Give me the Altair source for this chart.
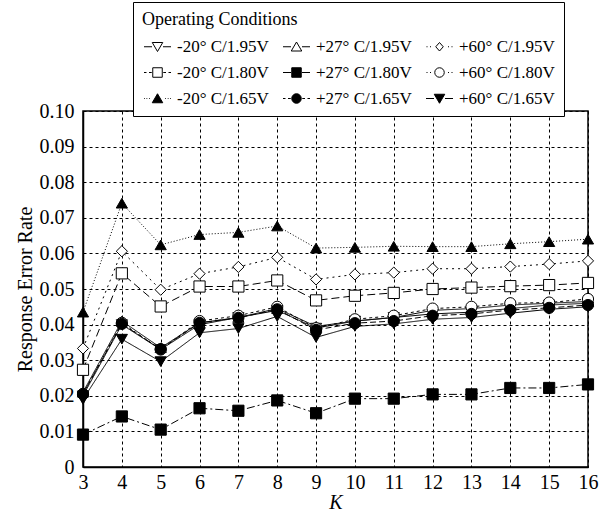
import altair as alt
import pandas as pd

K = list(range(3, 17))
conditions = [
    "-20° C/1.95V", "+27° C/1.95V", "+60° C/1.95V",
    "-20° C/1.80V", "+27° C/1.80V", "+60° C/1.80V",
    "-20° C/1.65V", "+27° C/1.65V", "+60° C/1.65V",
]

m20_195 = [0.0200, 0.0400, 0.0330, 0.0400, 0.0420, 0.0440, 0.0390, 0.0410, 0.0420, 0.0430, 0.0435, 0.0445, 0.0455, 0.0460]
p27_195 = [0.0210, 0.0410, 0.0335, 0.0405, 0.0420, 0.0445, 0.0395, 0.0410, 0.0420, 0.0440, 0.0445, 0.0455, 0.0460, 0.0465]
p60_195 = [0.0333, 0.0606, 0.0498, 0.0543, 0.0562, 0.0589, 0.0527, 0.0541, 0.0546, 0.0557, 0.0557, 0.0563, 0.0570, 0.0579]
m20_180 = [0.0273, 0.0544, 0.0451, 0.0507, 0.0507, 0.0524, 0.0468, 0.0481, 0.0489, 0.0500, 0.0504, 0.0508, 0.0511, 0.0517]
p27_180 = [0.0091, 0.0142, 0.0105, 0.0165, 0.0158, 0.0187, 0.0151, 0.0192, 0.0192, 0.0204, 0.0204, 0.0222, 0.0222, 0.0232]
p60_180 = [0.0205, 0.0405, 0.0330, 0.0410, 0.0425, 0.0450, 0.0390, 0.0415, 0.0425, 0.0445, 0.0450, 0.0460, 0.0462, 0.0472]
m20_165 = [0.0435, 0.0741, 0.0624, 0.0653, 0.0659, 0.0677, 0.0615, 0.0617, 0.0620, 0.0619, 0.0619, 0.0627, 0.0633, 0.0640]
p27_165 = [0.0205, 0.0402, 0.0331, 0.0405, 0.0419, 0.0443, 0.0385, 0.0404, 0.0410, 0.0425, 0.0430, 0.0441, 0.0447, 0.0455]
p60_165 = [0.0190, 0.0359, 0.0296, 0.0377, 0.0389, 0.0423, 0.0364, 0.0395, 0.0402, 0.0415, 0.0420, 0.0432, 0.0443, 0.0450]

series = [m20_195, p27_195, p60_195, m20_180, p27_180, p60_180, m20_165, p27_165, p60_165]

y_ticks = [0.0, 0.01, 0.02, 0.03, 0.04, 0.05, 0.06, 0.07, 0.08, 0.09, 0.10]

rows = []
for c, vals in zip(conditions, series):
    for k, v in zip(K, vals):
        rows.append({"K": k, "rate": v, "cond": c})
df = pd.DataFrame(rows)

# styles
point_shapes = ["triangle-down", "triangle-up", "diamond", "square", "square",
                "circle", "triangle-up", "circle", "triangle-down"]
point_sizes = [125, 125, 100, 185, 150, 135, 125, 140, 125]
point_fills = ["white", "white", "white", "white", "black",
               "white", "black", "black", "black"]
line_dashes = [[1, 0], [1, 0], [2, 4], [8, 4], [8, 3, 2, 3],
               [3, 3], [1, 2], [6, 3], [1, 0]]


# legend symbols: line pieces + marker (unit coordinates, shifted right)
def seg(pieces, dx=1.4):
    return "".join(f"M{a + dx:.2f},0L{b + dx:.2f},0" for a, b in pieces)


def poly(pts, dx=1.4):
    s = "M" + "L".join(f"{x + dx:.2f},{y:.2f}" for x, y in pts)
    return s + "Z"


solid = seg([(-2.7, -1.1), (1.1, 2.7)])
dotted = seg([(-2.6, -2.4), (-1.9, -1.7), (1.7, 1.9), (2.4, 2.6)])
dashed = seg([(-2.7, -2.2), (-1.7, -1.15), (1.15, 1.7), (2.2, 2.7)])
finedot = seg([(-2.7, -2.55), (-2.2, -2.05), (-1.7, -1.55),
               (1.55, 1.7), (2.05, 2.2), (2.55, 2.7)])
tri_down = poly([(-1.05, -0.85), (1.05, -0.85), (0, 0.95)])
tri_up = poly([(-1.05, 0.85), (1.05, 0.85), (0, -0.95)])
square = poly([(-0.95, -0.95), (0.95, -0.95), (0.95, 0.95), (-0.95, 0.95)])
diamond = poly([(0, -0.85), (0.75, 0), (0, 0.85), (-0.75, 0)])
circle = "M0.45,0A0.95,0.95,0,1,0,2.35,0A0.95,0.95,0,1,0,0.45,0Z"
legend_paths = [
    solid + tri_down, solid + tri_up, dotted + diamond,
    dashed + square, solid + square, dotted + circle,
    finedot + tri_up, dashed + circle, solid + tri_down,
]

# legend lays out column by column; reorder so that it reads row by row
col_order = [0, 3, 6, 1, 4, 7, 2, 5, 8]
leg_domain = [conditions[i] for i in col_order]
leg_paths = [legend_paths[i] for i in col_order]
leg_fills = [point_fills[i] for i in col_order]

serif = "Liberation Serif"

x_enc = alt.X(
    "K:Q",
    scale=alt.Scale(domain=[3, 16], nice=False, zero=False),
    axis=alt.Axis(values=K, format="d", title="K", titleFontStyle="italic",
                  titlePadding=0, labelFlush=False, labelPadding=5),
)
y_enc = alt.Y(
    "rate:Q",
    scale=alt.Scale(domain=[0, 0.1], nice=False),
    axis=alt.Axis(values=y_ticks,
                  labelExpr="datum.value == 0 ? '0' : format(datum.value, '.2f')",
                  title="Response Error Rate", titlePadding=4, labelFlush=False,
                  labelPadding=9),
)

base = alt.Chart(df)

lines = base.mark_line(color="black", strokeWidth=1).encode(
    x=x_enc, y=y_enc,
    strokeDash=alt.StrokeDash("cond:N", scale=alt.Scale(domain=conditions, range=line_dashes), legend=None),
    detail="cond:N",
)

points = base.mark_point(filled=True, stroke="black", strokeWidth=1, opacity=1).encode(
    x=x_enc, y=y_enc,
    shape=alt.Shape("cond:N", scale=alt.Scale(domain=conditions, range=point_shapes), legend=None),
    fill=alt.Fill("cond:N", scale=alt.Scale(domain=conditions, range=point_fills), legend=None),
    size=alt.Size("cond:N", scale=alt.Scale(domain=conditions, range=point_sizes), legend=None),
)

leg = alt.Legend(title="Operating Conditions", orient="none", legendX=50, legendY=-109,
                 columns=3, symbolSize=100, labelOffset=18, columnPadding=12,
                 rowPadding=8, titlePadding=9, padding=9,
                 strokeColor="black", fillColor="white",
                 symbolStrokeColor="black", symbolStrokeWidth=1)

legend_layer = base.mark_point(filled=True, strokeWidth=1, opacity=1).encode(
    x=x_enc, y=y_enc,
    shape=alt.Shape("cond:N", scale=alt.Scale(domain=leg_domain, range=leg_paths), legend=leg),
    fill=alt.Fill("cond:N", scale=alt.Scale(domain=leg_domain, range=leg_fills), legend=leg),
    stroke=alt.Stroke("cond:N", scale=alt.Scale(domain=leg_domain, range=["black"] * 9), legend=leg),
).transform_filter("datum.rate < 0")

chart = alt.layer(lines, points, legend_layer).resolve_scale(
    shape="independent", fill="independent", size="independent", stroke="independent"
).properties(
    width=505, height=356,
    autosize=alt.AutoSizeParams(type="none"),
    padding={"left": 83, "top": 111, "right": 20, "bottom": 49},
).configure_view(
    stroke="black", strokeWidth=1.5
).configure_axis(
    labelFont=serif, titleFont=serif, labelFontSize=20, titleFontSize=20,
    titleFontWeight="normal", labelColor="black", titleColor="black",
    domainColor="black", domainWidth=1.5, ticks=False,
    gridColor="black", gridDash=[3, 3], gridOpacity=1, gridWidth=1,
).configure_legend(
    labelFont=serif, titleFont=serif, labelFontSize=17, titleFontSize=18,
    titleFontWeight="normal", labelColor="black", titleColor="black",
    labelLimit=0,
)

chart.save("out.html", embed_options={"renderer": "svg", "actions": False})
